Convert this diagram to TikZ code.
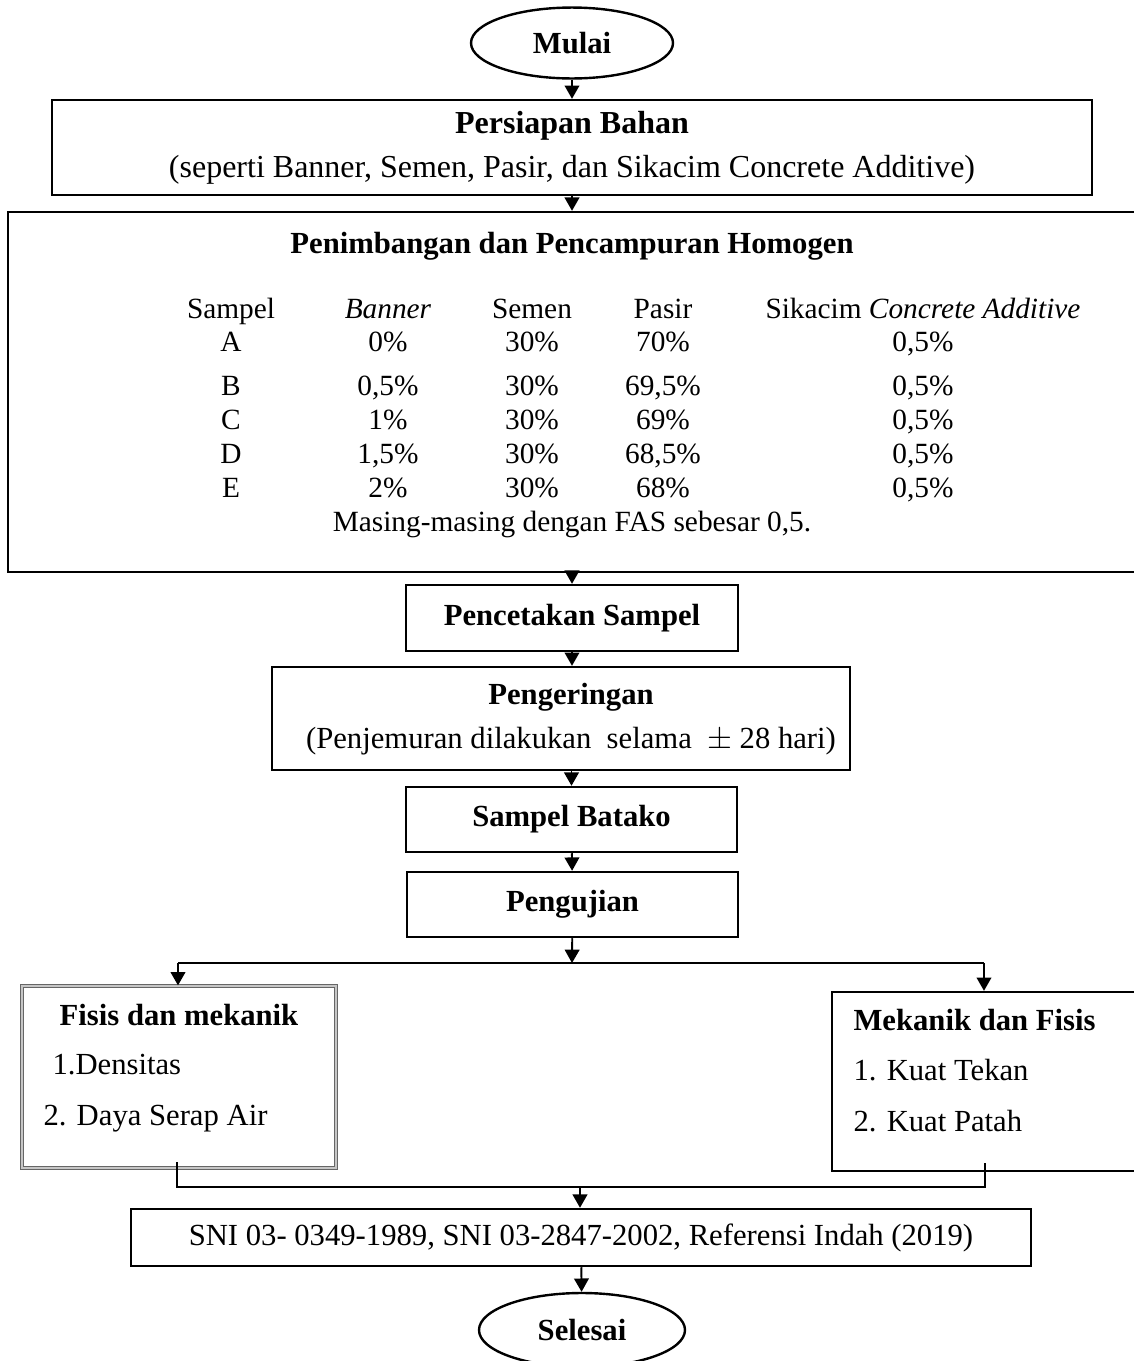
\documentclass[tikz,border=0pt]{standalone}
\usepackage{fontspec}
\setmainfont{Liberation Serif}
\usetikzlibrary{shapes.geometric,arrows.meta}

\begin{document}
\begin{tikzpicture}[x=0.375pt,y=-0.375pt,
    kotak/.style={draw,line width=0.9pt,inner sep=0pt,align=center,font=\fontsize{11.5}{14}\selectfont},
    bulat/.style={ellipse,draw,line width=0.9pt,inner sep=0pt,font=\fontsize{11.5}{14}\selectfont\bfseries},
    teks/.style={inner sep=0pt,align=center,font=\fontsize{11.5}{14}\selectfont},
    isi/.style={inner sep=0pt,anchor=base,font=\fontsize{11}{13}\selectfont},
    panah/.style={-{Triangle[width=5.5pt,length=5pt]},line width=0.7pt},
    garis/.style={line width=0.7pt}]
    \useasboundingbox (0,0) rectangle (1133,1361);
    % alur utama
    \node[bulat] (mulai) at (572,43) [minimum width=75.75pt, minimum height=26.6pt] {Mulai};
    \node[kotak] (bahan) at (572,147.5) [minimum width=390pt, minimum height=35.6pt, font=\fontsize{12}{14}\selectfont]
        {\textbf{Persiapan Bahan}\\[2.5pt](seperti Banner, Semen, Pasir, dan Sikacim Concrete Additive)};
    \node[kotak] (campur) at (574,392) [minimum width=424.5pt, minimum height=135pt] {};
    \node[kotak] (cetak) at (572,618) [minimum width=124.5pt, minimum height=24.75pt] {\textbf{Pencetakan Sampel}};
    \node[kotak] (kering) at (561,718.5) [minimum width=216.75pt, minimum height=38.6pt] {};
    \node[kotak] (batako) at (571.5,819.5) [minimum width=124.1pt, minimum height=24.4pt] {\textbf{Sampel Batako}};
    \node[kotak] (uji) at (572.5,904.5) [minimum width=124.1pt, minimum height=24.4pt] {\textbf{Pengujian}};
    \node[kotak] (fisis) at (179,1077) [minimum width=117.75pt, minimum height=68.25pt,
        draw=gray!80!black, line width=0.45pt, double=gray!45, double distance=0.45pt] {};
    \node[kotak] (mekanik) at (986,1081.5) [minimum width=115.5pt, minimum height=67.1pt] {};
    \node[kotak] (sni) at (581,1237.5) [minimum width=337.5pt, minimum height=21.4pt]
        {SNI 03- 0349-1989, SNI 03-2847-2002, Referensi Indah (2019)};
    \node[bulat] (selesai) at (582,1330) [minimum width=77.25pt, minimum height=27.75pt] {Selesai};

    % isi pengeringan
    \node[teks] (teksering) at (571,719)
        {\textbf{Pengeringan}\\[2.5pt](Penjemuran dilakukan\ \ selama\ \ $\pm$ 28 hari)};

    % isi penimbangan
    \node[teks, anchor=base] (judulcampur) at (572,253) {\textbf{Penimbangan dan Pencampuran Homogen}};
    \node[isi] (hsampel) at (231,318) {Sampel};
    \node[isi] (hbanner) at (388,318) {\textit{Banner}};
    \node[isi] (hsemen) at (532,318) {Semen};
    \node[isi] (hpasir) at (663,318) {Pasir};
    \node[isi] (hsika) at (923,318) {Sikacim \textit{Concrete Additive}};
    \foreach \s/\b/\p/\yy in {A/0\%/70\%/351, B/{0,5\%}/{69,5\%}/395, C/1\%/69\%/429,
                               D/{1,5\%}/{68,5\%}/463, E/2\%/68\%/497}{
        \node[isi] (s\s) at (231,\yy) {\s};
        \node[isi] (b\s) at (388,\yy) {\b};
        \node[isi] (c\s) at (532,\yy) {30\%};
        \node[isi] (p\s) at (663,\yy) {\p};
        \node[isi] (k\s) at (923,\yy) {0,5\%};
    }
    \node[isi] (fas) at (572,531) {Masing-masing dengan FAS sebesar 0,5.};

    % isi pengujian
    \node[teks, anchor=base] (judulfisis) at (179,1025) {\textbf{Fisis dan mekanik}};
    \node[teks, anchor=base west] (densitas) at (52,1074) {1.Densitas};
    \node[teks, anchor=base west] (serap) at (43,1125) {2. Daya Serap Air};
    \node[teks, anchor=base west] (judulmek) at (853,1030) {\textbf{Mekanik dan Fisis}};
    \node[teks, anchor=base west] (tekan) at (853,1080) {1. Kuat Tekan};
    \node[teks, anchor=base west] (patah) at (853,1131) {2. Kuat Patah};

    % titik cabang
    \coordinate (cabang) at (572,963);
    \coordinate (cabkiri) at (178,963);
    \coordinate (cabkanan) at (984,963);
    \coordinate (ujungkiri) at (177,1162);
    \coordinate (ujungkanan) at (985,1163);
    \coordinate (gabkiri) at (177,1187);
    \coordinate (gabkanan) at (985,1187);
    \coordinate (gabung) at (580,1187);

    \draw[panah] (mulai) -- (mulai |- bahan.north);
    \draw[panah] (bahan.south) -- (bahan.south |- campur.north);
    \draw[panah] (campur.south -| cetak.north) -- (cetak.north);
    \draw[panah] (cetak) -- (cetak |- kering.north);
    \draw[panah] (kering.south -| batako) -- (batako);
    \draw[panah] (batako) -- (uji);
    \draw[panah] (uji) -- (cabang);
    \draw[garis] (cabkiri) -- (cabkanan);
    \draw[panah] (cabkiri) -- (cabkiri |- fisis.north);
    \draw[panah] (cabkanan) -- (cabkanan |- mekanik.north);
    \draw[garis] (ujungkiri) -- (gabkiri) -- (gabkanan) -- (ujungkanan);
    \draw[panah] (gabung) -- (gabung |- sni.north);
    \draw[panah] (sni) -- (selesai);
\end{tikzpicture}
\end{document}
